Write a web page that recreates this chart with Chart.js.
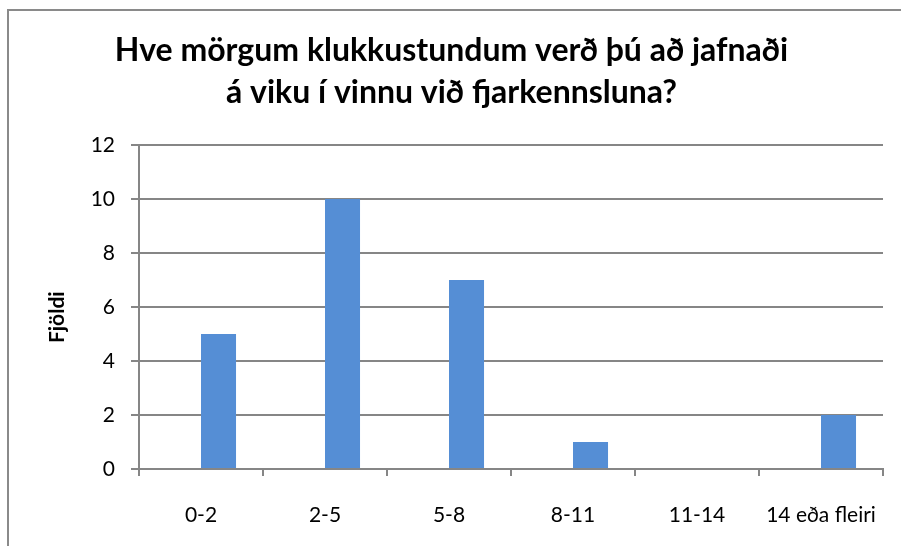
<!DOCTYPE html>
<html>
<head>
<meta charset="utf-8">
<script src="https://cdn.jsdelivr.net/npm/chart.js@4.4.0/dist/chart.umd.min.js"></script>
<style>
  html, body { margin: 0; padding: 0; background: #fff; overflow: hidden; }
  #frame { position: absolute; left: 7px; top: 9px; width: 910px; height: 560px; border: 2px solid #8a8a8a; box-sizing: border-box; }
  #wrap { position: absolute; left: 0; top: 0; width: 901px; height: 546px; }
</style>
</head>
<body>
<div id="frame"></div>
<div id="wrap"><canvas id="hoursChart" width="901" height="546"></canvas></div>
<script>
const categories = ['0-2', '2-5', '5-8', '8-11', '11-14', '14 eða fleiri'];
const blankSeries = [null, null, null, null, null, null];
const counts = [5, 10, 7, 1, 0, 2];
const titleLines = ['Hve mörgum klukkustundum verð þú að jafnaði', 'á viku í vinnu við fjarkennsluna?'];
const yTitle = 'Fjöldi';

const fontFamily = 'Lato, "Open Sans", sans-serif';
const gray = '#868686';

const ctx = document.getElementById('hoursChart').getContext('2d');
const chart = new Chart(ctx, {
  type: 'bar',
  data: {
    labels: categories,
    datasets: [
      { label: '', data: blankSeries, backgroundColor: '#558ed5' },
      { label: yTitle, data: counts, backgroundColor: '#558ed5' },
    ],
  },
  options: {
    responsive: false,
    animation: false,
    categoryPercentage: 0.565,
    barPercentage: 1,
    layout: { padding: { left: 20, right: 18, top: 0, bottom: 0 } },
    plugins: {
      legend: { display: false },
      tooltip: { enabled: false },
      title: {
        display: true,
        text: titleLines,
        color: '#000',
        font: { family: fontFamily, size: 32, weight: 'bold', lineHeight: 1.313 },
        padding: { top: 30, bottom: 31 },
      },
    },
    scales: {
      x: {
        grid: {
          display: true,
          offset: true,
          drawOnChartArea: false,
          drawTicks: true,
          tickLength: 7,
          color: gray,
          lineWidth: 2,
        },
        border: { color: gray, width: 2 },
        ticks: {
          color: '#000',
          font: { family: fontFamily, size: 21 },
          padding: 27,
          maxRotation: 0,
        },
        afterFit: (scale) => {
          scale.height = 77;
          scale.paddingLeft = 0;
          scale.paddingRight = 0;
        },
      },
      y: {
        min: 0,
        max: 12,
        ticks: {
          stepSize: 2,
          color: '#000',
          font: { family: fontFamily, size: 21 },
          padding: 16,
        },
        grid: { color: gray, lineWidth: 2, tickLength: 8 },
        border: { color: gray, width: 2 },
        title: {
          display: true,
          text: yTitle + '    ',
          color: '#000',
          font: { family: fontFamily, size: 21, weight: 'bold' },
          padding: { top: 25, bottom: 0 },
        },
        afterFit: (scale) => { scale.width = 119; },
      },
    },
  },
});
</script>
</body>
</html>
